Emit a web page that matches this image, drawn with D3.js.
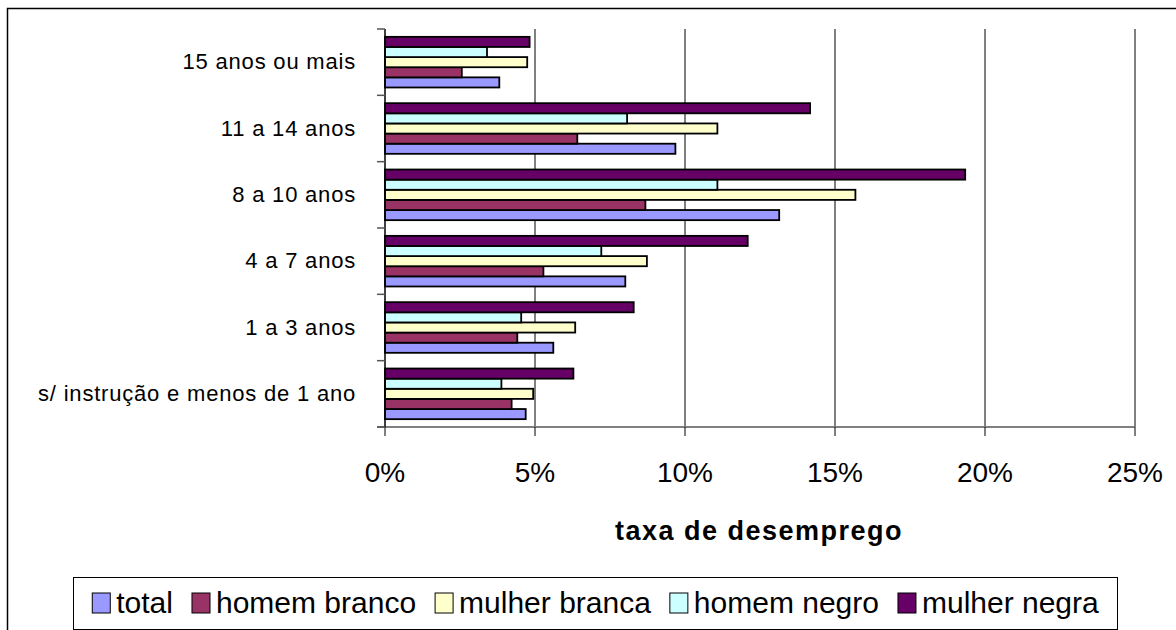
<!DOCTYPE html>
<html>
<head>
<meta charset="utf-8">
<script src="https://cdn.jsdelivr.net/npm/d3@7"></script>
<style>
  html, body { margin: 0; padding: 0; background: #ffffff; }
  svg { display: block; font-family: "Liberation Sans", Arial, sans-serif; }
</style>
</head>
<body>
<svg id="chart" width="1176" height="630"></svg>
<script>
const categories = ["s/ instrução e menos de 1 ano", "1 a 3 anos", "4 a 7 anos", "8 a 10 anos", "11 a 14 anos", "15 anos ou mais"];
const seriesNames = ["total", "homem branco", "mulher branca", "homem negro", "mulher negra"];
const seriesColors = ["#9999FF", "#993366", "#FFFFCC", "#CCFFFF", "#660066"];
const total        = [4.69, 5.61, 8.01, 13.14, 9.68, 3.81];
const homemBranco  = [4.22, 4.41, 5.28, 8.68, 6.41, 2.56];
const mulherBranca = [4.94, 6.34, 8.73, 15.68, 11.08, 4.74];
const homemNegro   = [3.88, 4.54, 7.21, 11.08, 8.07, 3.40];
const mulherNegra  = [6.28, 8.29, 12.09, 19.34, 14.17, 4.82];
const xTicks = [0, 5, 10, 15, 20, 25];
const xTickLabels = ["0%", "5%", "10%", "15%", "20%", "25%"];
const axisTitle = "taxa de desemprego";

const seriesValues = [total, homemBranco, mulherBranca, homemNegro, mulherNegra];

const svg = d3.select("#chart");

// outer frame
svg.append("rect").attr("x", 7.5).attr("y", 8.5).attr("width", 1200).attr("height", 700)
  .attr("fill", "none").attr("stroke", "#000").attr("stroke-width", 1.5);

const plot = { left: 385, right: 1135, top: 29, bottom: 427 };

const x = d3.scaleLinear().domain([0, 25]).range([plot.left, plot.right]);
const y = d3.scaleBand().domain(categories).range([plot.bottom, plot.top]).paddingInner(0).paddingOuter(0);
const groupFrac = 1 / 1.31;
const pad = y.bandwidth() * (1 - groupFrac) / 2;
const yInner = d3.scaleBand().domain(seriesNames).range([y.bandwidth() - pad, pad]);

// gridlines
svg.append("g").selectAll("line").data(xTicks.filter(d => d > 0)).join("line")
  .attr("x1", d => x(d)).attr("x2", d => x(d))
  .attr("y1", plot.top).attr("y2", plot.bottom)
  .attr("stroke", "#000").attr("stroke-width", 1);

// bars
const groups = svg.append("g").selectAll("g").data(categories).join("g")
  .attr("transform", c => `translate(0,${y(c)})`);
groups.selectAll("rect").data((c, ci) => seriesNames.map((s, si) => ({ s, si, v: seriesValues[si][ci] })))
  .join("rect")
  .attr("x", x(0))
  .attr("y", d => yInner(d.s))
  .attr("width", d => x(d.v) - x(0))
  .attr("height", yInner.bandwidth())
  .attr("fill", d => seriesColors[d.si])
  .attr("stroke", "#000").attr("stroke-width", 1.8);

// x axis line (gray)
svg.append("line").attr("x1", plot.left - 8).attr("x2", plot.right)
  .attr("y1", plot.bottom).attr("y2", plot.bottom)
  .attr("stroke", "#808080").attr("stroke-width", 2);

// x ticks
svg.append("g").selectAll("line").data(xTicks).join("line")
  .attr("x1", d => x(d)).attr("x2", d => x(d))
  .attr("y1", plot.bottom).attr("y2", plot.bottom + 9)
  .attr("stroke", "#000").attr("stroke-width", 1);

// x tick labels
svg.append("g").selectAll("text").data(xTicks).join("text")
  .attr("x", d => x(d)).attr("y", 482)
  .attr("text-anchor", "middle").attr("font-size", 28).attr("fill", "#000")
  .text((d, i) => xTickLabels[i]);

// y axis line
svg.append("line").attr("x1", plot.left).attr("x2", plot.left)
  .attr("y1", plot.top).attr("y2", plot.bottom)
  .attr("stroke", "#000").attr("stroke-width", 1.5);

// y ticks at category boundaries
const boundaries = categories.map(c => y(c)).concat([plot.bottom]);
svg.append("g").selectAll("line").data(boundaries).join("line")
  .attr("x1", plot.left - 8).attr("x2", plot.left)
  .attr("y1", d => d).attr("y2", d => d)
  .attr("stroke", "#555").attr("stroke-width", 1.5);

// category labels
svg.append("g").selectAll("text").data(categories).join("text")
  .attr("x", 356).attr("y", c => y(c) + y.bandwidth() / 2 + 7)
  .attr("text-anchor", "end").attr("font-size", 22).attr("letter-spacing", 0.8).attr("fill", "#000")
  .text(c => c);

// axis title
svg.append("text").attr("x", 759).attr("y", 540).attr("text-anchor", "middle")
  .attr("font-size", 27).attr("font-weight", "bold").attr("letter-spacing", 1.5).attr("fill", "#000")
  .text(axisTitle);

// legend
const legBox = { x: 73.5, y: 577.5, w: 1044, h: 52 };
svg.append("rect").attr("x", legBox.x).attr("y", legBox.y).attr("width", legBox.w).attr("height", legBox.h)
  .attr("fill", "#fff").attr("stroke", "#000").attr("stroke-width", 1);

const leg = svg.append("g");
const swW = 18, swH = 20, gapSw = 6, gapItem = 19;
const items = seriesNames.map((s, i) => {
  const g = leg.append("g");
  g.append("rect").attr("x", 0).attr("y", 593).attr("width", swW).attr("height", swH)
    .attr("fill", seriesColors[i]).attr("stroke", "#000").attr("stroke-width", 1);
  const t = g.append("text").attr("x", swW + gapSw).attr("y", 613).attr("font-size", 30).attr("fill", "#000").text(s);
  return { g, w: swW + gapSw + t.node().getComputedTextLength() };
});
const totalW = d3.sum(items, d => d.w) + gapItem * (items.length - 1);
let cx = legBox.x + (legBox.w - totalW) / 2;
items.forEach(it => { it.g.attr("transform", `translate(${cx},0)`); cx += it.w + gapItem; });
</script>
</body>
</html>
